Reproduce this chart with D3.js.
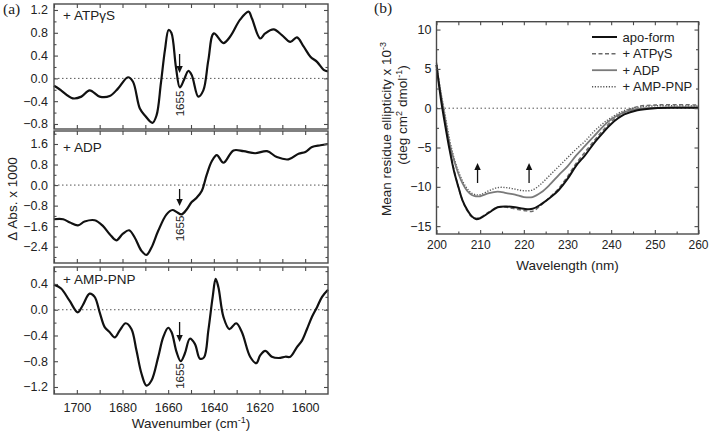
<!DOCTYPE html>
<html><head><meta charset="utf-8">
<script src="https://cdn.jsdelivr.net/npm/d3@7"></script>
<style>
body{margin:0;background:#fff}
svg{display:block}
text{font-family:"Liberation Sans",Arial,Helvetica,sans-serif;fill:#222}
</style>
</head><body>
<svg id="c" width="709" height="433"></svg>
<script>
// ---------- Panel (a) data: FTIR difference spectra ----------
const wnATP  = [1710,1707.6,1701.8,1698,1694.4,1690,1685.6,1682,1677.6,1675.4,1672.4,1670.2,1666.9,1665.1,1663.2,1661.4,1659.8,1658.6,1656.6,1654.9,1653.1,1651.2,1649.7,1646.8,1644.6,1642.4,1640,1635.8,1632.9,1628.5,1624.8,1623.3,1619.7,1617.5,1613.8,1610.2,1606.5,1603.6,1600.7,1597.7,1594.8,1591.9,1590];
const absATP = [-0.13,-0.19,-0.35,-0.32,-0.21,-0.32,-0.31,-0.18,0.02,-0.06,-0.53,-0.65,-0.78,-0.65,-0.09,0.50,0.85,0.80,0.20,-0.16,-0.03,0.13,0.06,-0.32,-0.21,0.32,0.79,0.62,0.73,1.03,1.17,1.05,0.70,0.79,0.86,0.76,0.64,0.72,0.56,0.38,0.29,0.15,0.12];

const wnADP  = [1710,1706,1703,1699.5,1696.6,1692.2,1688.6,1685.6,1682.7,1679.8,1677.1,1674.6,1671.7,1669.5,1667.3,1664.4,1660.7,1658.1,1656.3,1654.1,1651.9,1649.7,1647.5,1645.3,1643.1,1640.9,1638.7,1635.8,1631.4,1627,1621.9,1616.7,1612.4,1607.3,1602.9,1599.9,1597,1593.3,1590];
const absADP = [-1.33,-1.33,-1.46,-1.57,-1.42,-1.37,-1.59,-1.91,-2.15,-1.89,-1.76,-2.05,-2.56,-2.72,-2.43,-1.79,-1.14,-0.97,-1.05,-1.14,-0.95,-0.66,-0.49,-0.23,0.41,0.93,1.17,0.87,1.35,1.32,1.24,1.32,1.09,1.00,1.22,1.29,1.48,1.55,1.60];

const wnAMP  = [1710,1706.9,1703.2,1699.6,1697.4,1694.4,1692.2,1690,1687.8,1685.6,1683.4,1681.2,1678.6,1676.1,1673.9,1671.7,1669.5,1667.3,1664.4,1662.2,1660,1658.5,1656.3,1654.5,1652.7,1650.5,1648.3,1646.1,1644.3,1642.4,1640.5,1639.2,1638,1635.8,1633.2,1630.2,1627.7,1624.1,1621.4,1619.7,1617.5,1614.6,1611.6,1608.7,1606.5,1603.6,1601.4,1599.2,1597,1594.8,1592.6,1590];
const absAMP = [0.39,0.33,0.14,-0.04,0.07,0.25,0.20,-0.04,-0.27,-0.35,-0.43,-0.32,-0.21,-0.30,-0.63,-0.99,-1.18,-1.10,-0.74,-0.43,-0.28,-0.35,-0.66,-0.80,-0.68,-0.45,-0.53,-0.76,-0.74,-0.32,0.20,0.48,0.35,-0.11,-0.30,-0.21,-0.35,-0.73,-0.83,-0.71,-0.64,-0.73,-0.75,-0.73,-0.73,-0.58,-0.48,-0.30,-0.11,0.04,0.20,0.31];

const aTickLabels = [1700,1680,1660,1640,1620,1600];

// ---------- Panel (b) data: CD spectra ----------
const cdWavelength = [200,201,202,203,204,205,206,207,208,209,210,212,214,216,218,220,222,224,226,228,230,232,234,236,238,240,243,246,250,255,260];
const cdApo  = [5.5,1.2,-2.2,-5.3,-8.0,-10.0,-11.8,-12.9,-13.7,-14.1,-14.0,-13.3,-12.6,-12.5,-12.6,-12.8,-12.8,-12.2,-11.4,-10.4,-9.0,-7.3,-6.0,-4.5,-3.2,-2.0,-0.8,-0.25,0.0,0.05,0.05];
const cdATP  = [5.8,1.6,-1.8,-5.0,-7.8,-10.0,-11.8,-13.0,-13.8,-14.0,-13.9,-13.2,-12.6,-12.6,-12.8,-13.0,-13.1,-12.3,-11.3,-10.2,-8.7,-7.0,-5.6,-4.2,-2.9,-1.7,-0.5,0.2,0.4,0.45,0.4];
const cdADP  = [5.0,1.8,-1.4,-4.5,-6.6,-8.3,-9.6,-10.5,-11.0,-11.2,-11.2,-10.8,-10.6,-10.8,-11.0,-11.3,-11.3,-10.7,-9.7,-8.5,-7.4,-6.0,-4.8,-3.6,-2.4,-1.4,-0.5,-0.1,0.05,0.1,0.1];
const cdAMP  = [5.5,2.0,-1.0,-4.0,-6.3,-8.0,-9.3,-10.2,-10.8,-11.0,-11.0,-10.5,-10.1,-10.1,-10.3,-10.5,-10.4,-9.6,-8.5,-7.4,-6.3,-5.2,-4.2,-3.0,-2.0,-1.2,-0.3,0.1,0.3,0.3,0.3];
const cdNames = ["apo-form","+ ATP\u03b3S","+ ADP","+ AMP-PNP"];
const bTickLabels = [200,210,220,230,240,250,260];
const bYTickLabels = [-15,-10,-5,0,5,10];

// ---------- drawing ----------
const svg = d3.select("#c");
const FRAME = "#4a4a4a";

function arrowHead(g, x, ytip, dir){ // dir: +1 pointing down, -1 pointing up
  g.append("path")
    .attr("d", `M${x-3.2},${ytip - dir*7} L${x+3.2},${ytip - dir*7} L${x},${ytip} Z`)
    .attr("fill","#111");
}

function drawFrame(g, x0, x1, y0, y1){
  g.append("rect").attr("x",x0).attr("y",y0).attr("width",x1-x0).attr("height",y1-y0)
    .attr("fill","none").attr("stroke",FRAME).attr("stroke-width",1.4);
}

function addAxis(g, axis, tx, ty, labels, fs){
  const a = g.append("g").attr("transform",`translate(${tx},${ty})`).call(axis);
  a.select(".domain").remove();
  a.selectAll(".tick line").attr("stroke",FRAME).attr("stroke-width",1.1);
  a.selectAll("text").attr("font-size",fs||12.5).attr("fill","#222")
    .attr("font-family","'Liberation Sans',Arial,sans-serif");
  if(!labels) a.selectAll("text").remove();
  return a;
}

// Panel (a)
const ax0 = 54, ax1 = 328;
const xA = d3.scaleLinear().domain([1710,1590]).range([ax0,ax1]);
const xMinorA = d3.range(1600,1711,10);

function panelA(cfg){
  const {top,bottom,domain,major,minor,wn,vals,label,arrow,showX} = cfg;
  const y = d3.scaleLinear().domain(domain).range([bottom,top]);
  const g = svg.append("g");
  g.append("line").attr("x1",ax0).attr("x2",ax1).attr("y1",y(0)).attr("y2",y(0))
    .attr("stroke","#555").attr("stroke-width",1).attr("stroke-dasharray","1.5,2.5");
  const line = d3.line().x((d,i)=>xA(wn[i])).y(d=>y(d)).curve(d3.curveCatmullRom.alpha(0.5));
  g.append("path").datum(vals).attr("d",line).attr("fill","none")
    .attr("stroke","#111").attr("stroke-width",2.2).attr("stroke-linejoin","round");
  addAxis(g, d3.axisLeft(y).tickValues(major).tickSize(-4).tickPadding(6).tickFormat(d3.format(".1f")), ax0, 0, true);
  addAxis(g, d3.axisLeft(y).tickValues(minor).tickSize(-2.5), ax0, 0, false);
  addAxis(g, d3.axisRight(y).tickValues(major).tickSize(-4), ax1, 0, false);
  addAxis(g, d3.axisRight(y).tickValues(minor).tickSize(-2.5), ax1, 0, false);
  addAxis(g, d3.axisBottom(xA).tickValues(xMinorA).tickSize(-4), 0, bottom, false);
  addAxis(g, d3.axisTop(xA).tickValues(xMinorA).tickSize(-4), 0, top, false);
  if(showX){
    addAxis(g, d3.axisBottom(xA).tickValues(aTickLabels).tickSize(0).tickPadding(9).tickFormat(d3.format("d")), 0, bottom, true);
  }
  drawFrame(g, ax0, ax1, top, bottom);
  g.append("text").attr("x",63).attr("y",top+cfg.labelDy).attr("font-size",13.5).text(label);
  const xa = xA(1655);
  g.append("line").attr("x1",xa).attr("x2",xa).attr("y1",arrow[0]).attr("y2",arrow[1]-5)
    .attr("stroke","#111").attr("stroke-width",1.3);
  arrowHead(g, xa, arrow[1], 1);
  g.append("text").attr("transform",`translate(${xa+4},${arrow[2]}) rotate(-90)`)
    .attr("text-anchor","middle").attr("font-size",11.5).text("1655");
  return y;
}

panelA({top:4,bottom:129,domain:[-0.888,1.305],major:[-0.8,-0.4,0,0.4,0.8,1.2],minor:[-0.6,-0.2,0.2,0.6,1.0],
  wn:wnATP,vals:absATP,label:"+ ATP\u03b3S",labelDy:16,arrow:[54,73,103.5],showX:false});
panelA({top:131,bottom:263,domain:[-3.034,2.106],major:[-2.4,-1.6,-0.8,0,0.8,1.6],minor:[-2.8,-2.0,-1.2,-0.4,0.4,1.2,2.0],
  wn:wnADP,vals:absADP,label:"+ ADP",labelDy:20.5,arrow:[189,206,228.5],showX:false});
panelA({top:267,bottom:394,domain:[-1.309,0.664],major:[-1.2,-0.8,-0.4,0,0.4],minor:[-1.0,-0.6,-0.2,0.2,0.6],
  wn:wnAMP,vals:absAMP,label:"+ AMP-PNP",labelDy:17,arrow:[322,342,376],showX:true});

svg.append("text").attr("transform","translate(16.5,199) rotate(-90)").attr("text-anchor","middle")
  .attr("font-size",13.5).text("\u0394 Abs. x 1000");
const wl = svg.append("text").attr("x",(ax0+ax1)/2).attr("y",428).attr("text-anchor","middle").attr("font-size",13.5);
wl.append("tspan").text("Wavenumber (cm");
wl.append("tspan").attr("font-size",9).attr("dy",-5).text("-1");
wl.append("tspan").attr("dy",5).text(")");

svg.append("text").attr("x",3).attr("y",13.5).attr("font-size",15.5)
  .style("font-family","'Liberation Serif','Times New Roman',serif").text("(a)");

// Panel (b)
const bx0 = 436.5, bx1 = 698.5, by0 = 21.7, by1 = 234;
const xB = d3.scaleLinear().domain([200,260]).range([bx0,bx1]);
const yB = d3.scaleLinear().domain([-16,11]).range([by1,by0]);
const gb = svg.append("g");
gb.append("line").attr("x1",bx0).attr("x2",bx1).attr("y1",yB(0)).attr("y2",yB(0))
  .attr("stroke","#555").attr("stroke-width",1).attr("stroke-dasharray","1.5,2.5");

const cdStyles = [
  {data:cdApo, color:"#111", w:2.0, dash:null},
  {data:cdATP, color:"#6a6a6a", w:1.5, dash:"4,2.5"},
  {data:cdADP, color:"#7a7a7a", w:1.8, dash:null},
  {data:cdAMP, color:"#555", w:1.4, dash:"1.2,1.6"}
];
const cdLine = d3.line().x((d,i)=>xB(cdWavelength[i])).y(d=>yB(d)).curve(d3.curveCatmullRom.alpha(0.5));
[3,2,1,0].forEach(k=>{
  const s = cdStyles[k];
  gb.append("path").datum(s.data).attr("d",cdLine).attr("fill","none")
    .attr("stroke",s.color).attr("stroke-width",s.w).attr("stroke-dasharray",s.dash);
});

addAxis(gb, d3.axisLeft(yB).tickValues(bYTickLabels).tickSize(-4).tickPadding(5), bx0, 0, true);
addAxis(gb, d3.axisLeft(yB).tickValues([-12.5,-7.5,-2.5,2.5,7.5]).tickSize(-2.5), bx0, 0, false);
addAxis(gb, d3.axisRight(yB).tickValues(bYTickLabels).tickSize(-4), bx1, 0, false);
addAxis(gb, d3.axisRight(yB).tickValues([-12.5,-7.5,-2.5,2.5,7.5]).tickSize(-2.5), bx1, 0, false);
const bxAxis = addAxis(gb, d3.axisBottom(xB).tickValues(bTickLabels).tickSize(-4).tickPadding(6), 0, by1, true, 12);
bxAxis.selectAll(".tick text").filter(d=>d===260).attr("text-anchor","end").attr("dx",9.5);
addAxis(gb, d3.axisBottom(xB).tickValues([205,215,225,235,245,255]).tickSize(-2.5), 0, by1, false);
addAxis(gb, d3.axisTop(xB).tickValues(d3.range(200,261,5)).tickSize(-3.5), 0, by0, false);
drawFrame(gb, bx0, bx1, by0, by1);

[209.4, 221.2].forEach(w=>{
  const xa = xB(w);
  gb.append("line").attr("x1",xa).attr("x2",xa).attr("y1",183).attr("y2",168)
    .attr("stroke","#111").attr("stroke-width",1.3);
  arrowHead(gb, xa, 163, -1);
});

const legY = [37,53.7,70.2,86.7];
cdNames.forEach((n,i)=>{
  const s = cdStyles[i];
  gb.append("line").attr("x1",592).attr("x2",617).attr("y1",legY[i]).attr("y2",legY[i])
    .attr("stroke",s.color).attr("stroke-width",s.w).attr("stroke-dasharray",s.dash);
  gb.append("text").attr("x",622.5).attr("y",legY[i]+4.5).attr("font-size",13).text(n);
});

const yl1 = svg.append("text").attr("transform","translate(391,129) rotate(-90)").attr("text-anchor","middle").attr("font-size",13.5);
yl1.append("tspan").text("Mean residue ellipticity x 10");
yl1.append("tspan").attr("font-size",9).attr("dy",-5).text("-3");
const yl2 = svg.append("text").attr("transform","translate(407,115) rotate(-90)").attr("text-anchor","middle").attr("font-size",13.5);
yl2.append("tspan").text("(deg cm");
yl2.append("tspan").attr("font-size",9).attr("dy",-5).text("2");
yl2.append("tspan").attr("dy",5).text(" dmol");
yl2.append("tspan").attr("font-size",9).attr("dy",-5).text("-1");
yl2.append("tspan").attr("dy",5).text(")");

svg.append("text").attr("x",(bx0+bx1)/2).attr("y",270).attr("text-anchor","middle").attr("font-size",13.5).text("Wavelength (nm)");
svg.append("text").attr("x",374).attr("y",12.5).attr("font-size",15.5)
  .style("font-family","'Liberation Serif','Times New Roman',serif").text("(b)");
</script>
</body></html>
